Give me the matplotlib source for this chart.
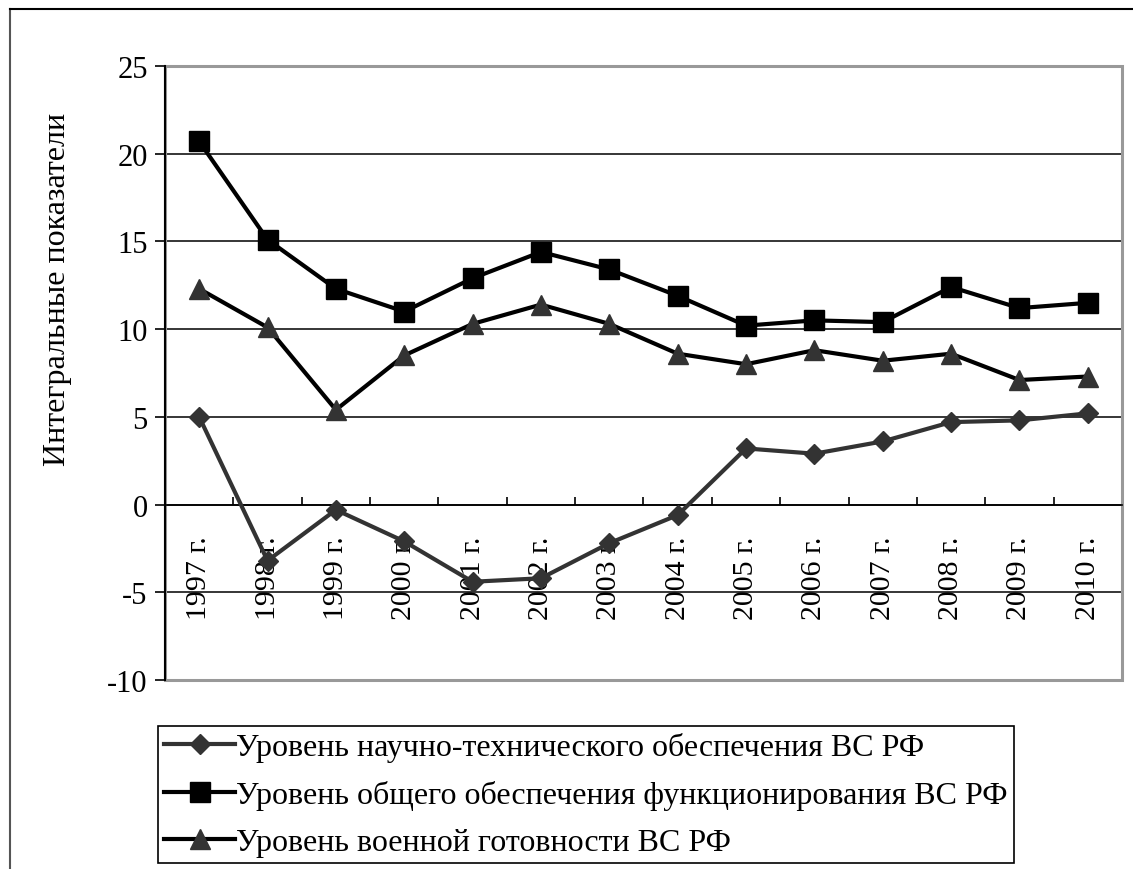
import matplotlib
matplotlib.use("Agg")
import matplotlib.pyplot as plt
from matplotlib.lines import Line2D
from matplotlib.patches import Rectangle
import numpy as np

plt.rcParams['font.family'] = 'serif'
plt.rcParams['font.serif'] = ['Liberation Serif', 'DejaVu Serif']
plt.rcParams['axes.unicode_minus'] = False

years = ["1997 г.", "1998 г.", "1999 г.", "2000 г.", "2001 г.", "2002 г.", "2003 г.",
         "2004 г.", "2005 г.", "2006 г.", "2007 г.", "2008 г.", "2009 г.", "2010 г."]

sci_tech = [5.0, -3.2, -0.3, -2.1, -4.4, -4.2, -2.2, -0.6, 3.2, 2.9, 3.6, 4.7, 4.8, 5.2]
general = [20.7, 15.1, 12.3, 11.0, 12.9, 14.4, 13.4, 11.9, 10.2, 10.5, 10.4, 12.4, 11.2, 11.5]
readiness = [12.3, 10.1, 5.4, 8.5, 10.3, 11.4, 10.3, 8.6, 8.0, 8.8, 8.2, 8.6, 7.1, 7.3]

labels = ["Уровень научно-технического обеспечения ВС РФ",
          "Уровень общего обеспечения функционирования ВС РФ",
          "Уровень военной готовности ВС РФ"]

W, H = 1133, 870
fig = plt.figure(figsize=(W / 100, H / 100), dpi=100)

# outer chart frame (top and left edges visible)
fig.add_artist(Line2D([10 / W, 10 / W], [0, 1 - 10 / H], transform=fig.transFigure,
                      color='#555555', lw=1.5))
fig.add_artist(Line2D([10 / W, 1], [1 - 10 / H, 1 - 10 / H], transform=fig.transFigure,
                      color='black', lw=1.5))

left, right, top, bottom = 165, 1122, 67, 681
ax = fig.add_axes([left / W, 1 - bottom / H, (right - left) / W, (bottom - top) / H])

x = np.arange(len(years))
ax.plot(x, sci_tech, color='#333333', lw=3, marker='D', ms=10.5, mfc='#333333',
        mec='#333333', label=labels[0], zorder=5)
ax.plot(x, general, color='black', lw=3, marker='s', ms=14.5, mfc='black',
        mec='black', label=labels[1], zorder=5)
ax.plot(x, readiness, color='black', lw=3, marker='^', ms=15, mfc='#333333',
        mec='#333333', label=labels[2], zorder=5)

ax.set_xlim(-0.5, len(years) - 0.5)
ax.set_ylim(-10, 25)
ax.set_yticks(np.arange(-10, 26, 5))
ax.yaxis.grid(True, color='black', lw=1.1)
ax.set_axisbelow(True)
ax.tick_params(axis='y', direction='out', length=7.5, width=1.2, pad=5,
               labelsize=22, color='black')

# category axis crossing at zero
ax.spines['bottom'].set_position(('data', 0))
ax.spines['bottom'].set_color('black')
ax.spines['bottom'].set_linewidth(1.2)
ax.set_xticks(x)
ax.set_xticklabels(years, rotation=90, fontsize=21.5)
ax.set_xticks(np.arange(len(years) + 1) - 0.5, minor=True)
ax.tick_params(axis='x', which='major', length=0, pad=22)
ax.tick_params(axis='x', which='minor', direction='in', length=6, width=1.2, color='black')

ax.spines['left'].set_color('black')
ax.spines['left'].set_linewidth(1.5)
ax.spines['left'].set_zorder(6)
ax.spines['top'].set_visible(False)
ax.spines['right'].set_visible(False)

# plot area border
ax.add_patch(Rectangle((0, 0), 1, 1, transform=ax.transAxes, fill=False,
                       edgecolor='#999999', lw=2.2, clip_on=False, zorder=1))

ax.set_ylabel("Интегральные показатели", fontsize=23)
ax.yaxis.set_label_coords(-0.097, 0.637)

leg = fig.legend(loc='upper left', bbox_to_anchor=(158 / W, 1 - 727 / H),
                 bbox_transform=fig.transFigure, borderaxespad=0,
                 fontsize=23, frameon=True, fancybox=False, edgecolor='black',
                 framealpha=1, handlelength=2.2, handletextpad=0.05,
                 labelspacing=0.55, borderpad=0.2, markerscale=1.0)
leg.get_frame().set_linewidth(1.2)

fig.savefig("out.png", dpi=100)
